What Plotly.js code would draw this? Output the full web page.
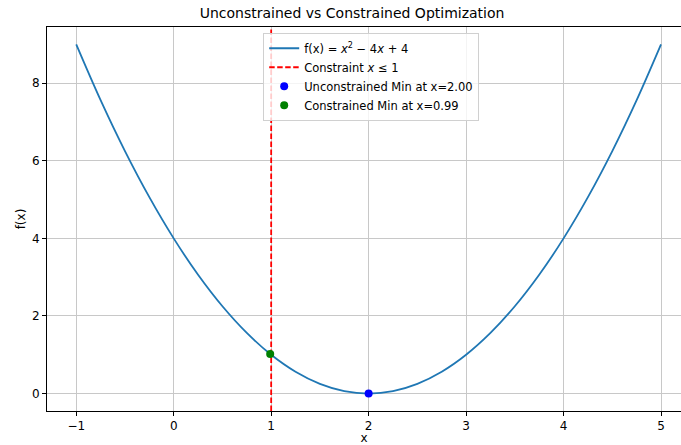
<!DOCTYPE html>
<html>
<head>
<meta charset="utf-8">
<script src="https://cdn.plot.ly/plotly-3.0.1.min.js"></script>
<style>
  html, body { margin: 0; padding: 0; background: #fff; }
  #chart { width: 681px; height: 445px; }
</style>
</head>
<body>
<div id="chart"></div>
<script>
// Sampled points of f(x) = x^2 - 4x + 4 over [-1, 5]
const xs = [-1, -0.75, -0.5, -0.25, 0, 0.25, 0.5, 0.75, 1, 1.25, 1.5, 1.75, 2,
            2.25, 2.5, 2.75, 3, 3.25, 3.5, 3.75, 4, 4.25, 4.5, 4.75, 5];
const fx = [9, 7.5625, 6.25, 5.0625, 4, 3.0625, 2.25, 1.5625, 1, 0.5625, 0.25, 0.0625, 0,
            0.0625, 0.25, 0.5625, 1, 1.5625, 2.25, 3.0625, 4, 5.0625, 6.25, 7.5625, 9];

// Constraint boundary x <= 1
const constraintX = 1;

// Minima
const unconstrainedMin = { x: 2.00, y: 0.0 };
const constrainedMin = { x: 0.99, y: 1.0201 };

const xRange = [-1.3, 5.205];
const yRange = [-0.45, 9.45];
const xTicks = [-1, 0, 1, 2, 3, 4, 5];
const yTicks = [0, 2, 4, 6, 8];

const font = 'DejaVu Sans, sans-serif';

const traces = [
  {
    x: xs, y: fx, type: 'scatter', mode: 'lines',
    line: { color: '#1f77b4', width: 1.8, shape: 'spline', smoothing: 1 },
    name: 'f(x) = <i>x</i><sup>2</sup> − 4<i>x</i> + 4'
  },
  {
    x: [constraintX, constraintX], y: yRange, type: 'scatter', mode: 'lines',
    line: { color: 'red', width: 1.8, dash: '5.5px,2.5px' },
    name: 'Constraint <i>x</i> ≤ 1'
  },
  {
    x: [unconstrainedMin.x], y: [unconstrainedMin.y], type: 'scatter', mode: 'markers',
    marker: { color: 'blue', size: 8 }, cliponaxis: false,
    name: 'Unconstrained Min at x=' + unconstrainedMin.x.toFixed(2)
  },
  {
    x: [constrainedMin.x], y: [constrainedMin.y], type: 'scatter', mode: 'markers',
    marker: { color: 'green', size: 8 },
    name: 'Constrained Min at x=' + constrainedMin.x.toFixed(2)
  }
];

const layout = {
  width: 681, height: 445,
  margin: { l: 47, r: 0, t: 27, b: 34 },
  paper_bgcolor: '#fff', plot_bgcolor: '#fff',
  font: { family: font, size: 12, color: '#000' },
  title: {
    text: 'Unconstrained vs Constrained Optimization',
    font: { family: font, size: 14, color: '#000' },
    x: 0.517, xanchor: 'center', xref: 'container',
    y: 15, yref: 'container', yanchor: 'middle'
  },
  xaxis: {
    range: xRange, tickvals: xTicks, ticktext: xTicks.map(v => v < 0 ? '−' + Math.abs(v) : String(v)),
    showgrid: true, gridcolor: '#c8c8c8', gridwidth: 1,
    zeroline: false, showline: true, linecolor: '#000', linewidth: 1, mirror: true,
    ticks: 'outside', ticklen: 4, tickcolor: '#000', tickwidth: 1,
    tickfont: { family: font, size: 12, color: '#000' },
    title: { text: 'x', font: { family: font, size: 12, color: '#000' }, standoff: 9 }
  },
  yaxis: {
    range: yRange, tickvals: yTicks,
    showgrid: true, gridcolor: '#c8c8c8', gridwidth: 1,
    zeroline: false, showline: true, linecolor: '#000', linewidth: 1,
    ticks: 'outside', ticklen: 4, tickcolor: '#000', tickwidth: 1,
    tickfont: { family: font, size: 12, color: '#000' },
    title: { text: 'f(x)', font: { family: font, size: 12, color: '#000' }, standoff: 3 }
  },
  showlegend: true,
  legend: {
    x: 0.341, y: 0.985, xanchor: 'left', yanchor: 'top',
    bgcolor: 'rgba(255,255,255,0.8)', bordercolor: '#d0d0d0', borderwidth: 1,
    font: { family: font, size: 11.5, color: '#000' },
    tracegroupgap: 0, itemwidth: 30
  }
};

Plotly.newPlot('chart', traces, layout, { displayModeBar: false, staticPlot: true });
</script>
</body>
</html>
